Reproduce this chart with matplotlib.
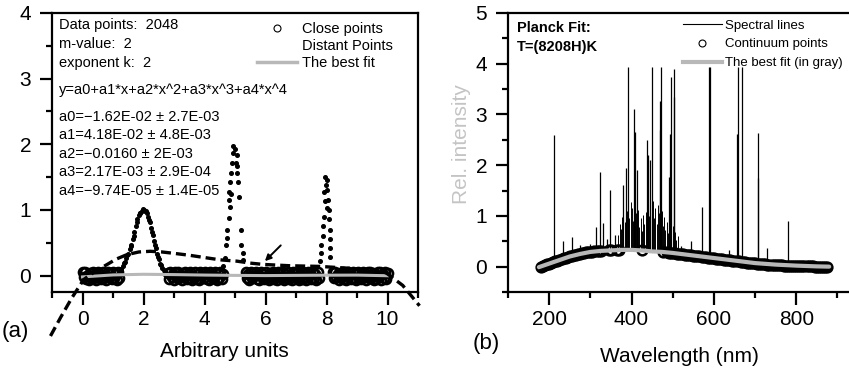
import numpy as np
import matplotlib
matplotlib.use("Agg")
import matplotlib.pyplot as plt
from matplotlib.lines import Line2D
from matplotlib.ticker import MultipleLocator

plt.rcParams["font.family"] = ["Liberation Sans", "DejaVu Sans"]

# ---- panel (a): data ----
# close points: four baseline stretches (evenly sampled), y values per stretch
seg_ranges = [(0.0, 1.2), (2.8, 4.6), (5.35, 7.75), (8.2, 10.0)]
seg1_y = [0.05, -0.02, 0.06, -0.05, 0.01, -0.06, 0.04, -0.03, 0.06, -0.04, 0.02, -0.06, 0.05, -0.01, 0.03, -0.05,
          0.06, -0.03, 0.00, -0.06, 0.05, -0.02, 0.04, -0.05, 0.06, -0.04, 0.02, -0.06, 0.05, -0.03]
seg2_y = [0.04, -0.05, 0.06, -0.02, 0.02, -0.06, 0.05, -0.03, 0.06, -0.04, 0.01, -0.06, 0.04, -0.02, 0.06, -0.05,
          0.03, -0.04, 0.05, -0.06, 0.00, -0.03, 0.06, -0.05, 0.02, -0.06, 0.05, -0.01, 0.04, -0.04,
          0.06, -0.05, 0.03, -0.06, 0.05, -0.02, 0.01, -0.04, 0.06, -0.06, 0.04, -0.03, 0.05, -0.05, 0.03]
seg3_y = [0.06, -0.03, 0.02, -0.06, 0.05, -0.04, 0.04, -0.01, 0.06, -0.05, 0.01, -0.06, 0.05, -0.02, 0.03, -0.05,
          0.06, -0.04, 0.00, -0.06, 0.04, -0.03, 0.06, -0.05, 0.02, -0.06, 0.05, -0.02, 0.04, -0.04,
          0.06, -0.06, 0.03, -0.03, 0.05, -0.05, 0.01, -0.06, 0.06, -0.02, 0.04, -0.04, 0.05, -0.06, 0.02,
          -0.05, 0.06, -0.03, 0.03, -0.06, 0.05, -0.01, 0.04, -0.05, 0.06, -0.04, 0.02, -0.06, 0.05, -0.03]
seg4_y = [0.05, -0.04, 0.06, -0.02, 0.03, -0.06, 0.04, -0.03, 0.06, -0.05, 0.01, -0.06, 0.05, -0.01, 0.04, -0.05,
          0.06, -0.03, 0.02, -0.06, 0.05, -0.04, 0.00, -0.05, 0.06, -0.02, 0.03, -0.06, 0.05, -0.04,
          0.06, -0.03, 0.04, -0.06, 0.02, -0.05, 0.05, -0.02, 0.06, -0.06, 0.03, -0.04, 0.05, -0.05, 0.04]

# distant points (the three peaks)
peak2_x = [1.20, 1.26, 1.32, 1.38, 1.44, 1.50, 1.55, 1.60, 1.65, 1.70, 1.75, 1.80, 1.85, 1.90, 1.95, 2.00, 2.05,
           2.10, 2.15, 2.20, 2.25, 2.30, 2.35, 2.40, 2.45, 2.50, 2.55, 2.60, 2.66, 2.72,
           1.23, 1.35, 1.47, 1.58, 1.68, 1.78, 1.88, 1.98, 2.08, 2.18, 2.28, 2.38, 2.48, 2.58, 2.69]
peak2_y = [0.06, 0.10, 0.15, 0.21, 0.27, 0.33, 0.40, 0.47, 0.56, 0.66, 0.76, 0.86, 0.92, 0.96, 0.99, 1.00, 0.98,
           0.95, 0.89, 0.82, 0.73, 0.62, 0.52, 0.42, 0.33, 0.25, 0.18, 0.12, 0.08, 0.05,
           0.09, 0.19, 0.31, 0.45, 0.61, 0.82, 0.95, 1.02, 0.98, 0.85, 0.66, 0.46, 0.28, 0.16, 0.06]
peak5_x = [4.95, 5.00, 4.92, 5.05, 4.89, 5.03, 5.08, 4.86, 5.05, 5.11, 4.84, 4.81, 4.86, 5.14, 4.81, 4.84, 4.80,
           4.75, 5.19, 4.73, 5.21, 4.71, 5.25, 4.66, 5.27, 4.62]
peak5_y = [1.98, 1.93, 1.86, 1.83, 1.71, 1.71, 1.67, 1.56, 1.56, 1.43, 1.43, 1.28, 1.25, 1.20, 1.15, 1.05, 0.87,
           0.70, 0.70, 0.57, 0.47, 0.47, 0.34, 0.27, 0.24, 0.14]
peak8_x = [7.94, 8.00, 7.97, 8.02, 7.91, 8.05, 7.94, 8.00, 8.08, 7.91, 8.07, 7.89, 8.10, 7.87, 8.13, 7.83, 8.13,
           8.10, 7.83, 7.78]
peak8_y = [1.50, 1.45, 1.38, 1.30, 1.28, 1.15, 1.13, 1.03, 1.00, 0.90, 0.86, 0.75, 0.70, 0.60, 0.55, 0.47, 0.42,
           0.29, 0.34, 0.22]

# dashed curve
dash_x = [-1.05, -0.72, -0.35, 0.04, 0.40, 0.81, 1.10, 1.46, 1.85, 2.22, 2.60, 2.98, 3.50, 4.07, 4.51, 5.06,
          5.50, 5.93, 6.80, 7.78, 8.80, 9.96, 10.50, 11.05]
dash_y = [-0.92, -0.64, -0.34, -0.06, 0.06, 0.17, 0.25, 0.32, 0.36, 0.37, 0.36, 0.34, 0.31, 0.27, 0.24, 0.22,
          0.19, 0.17, 0.15, 0.14, 0.11, 0.04, -0.15, -0.46]

# best fit (gray)
fit_a_x = [0, 1, 2, 3, 4, 5, 6, 7, 8, 9, 10]
fit_a_y = [-0.02, 0.01, 0.02, 0.015, 0.008, 0.003, 0.0, 0.003, 0.006, 0.007, -0.002]

info_lines = ["Data points:  2048", "m-value:  2", "exponent k:  2"]
eq_lines = ["y=a0+a1*x+a2*x^2+a3*x^3+a4*x^4",
            "a0=\u22121.62E-02 \u00b1 2.7E-03",
            "a1=4.18E-02 \u00b1 4.8E-03",
            "a2=\u22120.0160 \u00b1 2E-03",
            "a3=2.17E-03 \u00b1 2.9E-04",
            "a4=\u22129.74E-05 \u00b1 1.4E-05"]

# ---- panel (b): data ----
# continuum points: blue side 180-315 nm, a few isolated ones, red side 485-875 nm (5 nm grid)
cont_blue_wl = list(range(180, 320, 5))
cont_blue_y = [0.00, 0.015, 0.03, 0.045, 0.06, 0.075, 0.09, 0.105, 0.12, 0.135, 0.15, 0.165, 0.18, 0.19,
               0.20, 0.21, 0.22, 0.23, 0.24, 0.25, 0.26, 0.27, 0.28, 0.285, 0.29, 0.295, 0.30, 0.305]
cont_mid_wl = [320, 325, 345, 350, 365, 370, 425, 477]
cont_mid_y = [0.31, 0.31, 0.32, 0.32, 0.33, 0.33, 0.32, 0.29]
cont_red_wl = list(range(485, 880, 5))
cont_red_y = [0.280, 0.275, 0.270, 0.265, 0.260, 0.255, 0.250, 0.245, 0.240, 0.235,
              0.230, 0.225, 0.220, 0.215, 0.210, 0.205, 0.200, 0.195, 0.190, 0.185,
              0.180, 0.175, 0.170, 0.165, 0.160, 0.155, 0.150, 0.145, 0.140, 0.135,
              0.130, 0.125, 0.120, 0.115, 0.110, 0.105, 0.095, 0.090, 0.085, 0.080,
              0.075, 0.070, 0.066, 0.062, 0.058, 0.054, 0.050, 0.047, 0.044, 0.041,
              0.038, 0.035, 0.032, 0.030, 0.028, 0.026, 0.024, 0.022, 0.020, 0.018,
              0.016, 0.014, 0.012, 0.011, 0.010, 0.009, 0.008, 0.007, 0.006, 0.005,
              0.004, 0.003, 0.002, 0.001, 0.0, 0.0, 0.0, 0.0, 0.0]

fit_b_wl = [175, 200, 225, 250, 275, 300, 325, 350, 375, 400, 425, 450, 475, 500, 550, 600, 650, 700, 750, 800,
            850, 880]
fit_b_y = [-0.01, 0.06, 0.13, 0.20, 0.25, 0.29, 0.31, 0.32, 0.33, 0.33, 0.32, 0.30, 0.29, 0.27, 0.22, 0.17,
           0.12, 0.07, 0.04, 0.02, 0.005, 0.0]

line_wl = [210.5, 233, 255, 275, 300, 314, 324, 330, 340, 348, 360, 380, 387, 391, 405, 409, 414, 437, 441, 445,
           450, 468, 470, 472, 490, 494, 496, 503, 504, 520, 544, 571, 589, 591, 636, 656, 658, 669, 706, 708,
           729, 779]
line_top = [2.59, 0.50, 0.59, 0.43, 0.45, 0.79, 1.87, 0.86, 0.55, 1.51, 0.63, 1.61, 1.94, 3.93, 3.11, 2.65, 1.90,
            2.49, 2.20, 2.10, 3.93, 2.69, 3.27, 3.93, 1.77, 2.62, 3.73, 3.90, 3.34, 0.40, 0.50, 1.18, 3.93, 3.93,
            0.33, 2.62, 3.93, 3.93, 1.74, 2.64, 0.37, 0.89]

forest_wl = [368, 371, 374, 377, 380, 383, 386, 389, 392, 395, 398, 401, 404, 407, 410, 413, 416, 419, 422, 425,
             428, 431, 434, 437, 440, 443, 446, 449, 452, 455, 458, 461, 464, 467, 470, 473, 476, 479, 482, 485,
             488, 491, 494, 497, 500, 503, 506, 509, 512]
forest_top = [0.62, 0.85, 0.74, 0.98, 1.05, 0.88, 1.22, 1.10, 1.35, 0.95, 1.28, 1.15, 0.90, 1.32, 1.05, 0.82,
              1.12, 0.78, 0.95, 0.70, 1.02, 0.85, 1.08, 0.92, 1.25, 1.00, 1.18, 0.88, 1.30, 0.96, 1.15, 0.84,
              1.22, 1.05, 0.92, 1.10, 0.80, 0.98, 0.72, 0.88, 0.66, 0.84, 0.74, 0.62, 0.80, 0.58, 0.68, 0.52, 0.60]

GRAY = "#b8b8b8"

fig = plt.figure(figsize=(8.49, 3.71), dpi=100)
ax1 = fig.add_axes([52 / 849, 79 / 371, 366 / 849, 279 / 371])
ax2 = fig.add_axes([508 / 849, 79 / 371, 350 / 849, 279 / 371])

# ---- panel (a) ----
for (x0, x1), ys in zip(seg_ranges, [seg1_y, seg2_y, seg3_y, seg4_y]):
    xs = np.linspace(x0, x1, len(ys))
    ax1.plot(xs, ys, ls="none", marker="o", ms=6.5, mfc="none", mec="black", mew=1.9, zorder=2)

for px, py in [(peak2_x, peak2_y), (peak5_x, peak5_y), (peak8_x, peak8_y)]:
    ax1.plot(px, py, ls="none", marker="o", ms=2.6, color="black", zorder=2)

ax1.plot(fit_a_x, fit_a_y, color=GRAY, lw=2.2, zorder=3)
ax1.plot(dash_x, dash_y, color="black", lw=2.4, ls=(0, (3, 1.5)), clip_on=False, zorder=4)
ax1.annotate("", xy=(5.98, 0.22), xytext=(6.50, 0.46),
             arrowprops=dict(arrowstyle="-|>", color="black", lw=1.4, mutation_scale=9, shrinkA=0, shrinkB=0))

ax1.set_xlim(-1, 11)
ax1.set_ylim(-0.25, 4)
ax1.xaxis.set_major_locator(MultipleLocator(2))
ax1.xaxis.set_minor_locator(MultipleLocator(1))
ax1.yaxis.set_major_locator(MultipleLocator(1))
ax1.yaxis.set_minor_locator(MultipleLocator(0.5))
ax1.set_xlabel("Arbitrary units", fontsize=15)
ax1.xaxis.set_label_coords(0.47, -0.18)

for i, s in enumerate(info_lines):
    ax1.text(0.019, 0.957 - i * 0.068, s, transform=ax1.transAxes, fontsize=10.5, va="center")
for i, s in enumerate(eq_lines):
    yy = 0.724 if i == 0 else 0.627 - (i - 1) * 0.066
    ax1.text(0.019, yy, s, transform=ax1.transAxes, fontsize=10.5, va="center")

h_close = Line2D([], [], ls="none", marker="o", ms=5, mfc="none", mec="black", mew=0.8)
h_dist = Line2D([], [], ls="none", marker=".", ms=1, color="white")
h_fit = Line2D([], [], color=GRAY, lw=2.5)
ax1.legend([h_close, h_dist, h_fit], ["Close points", "Distant Points", "The best fit"],
           loc="upper left", bbox_to_anchor=(0.56, 0.968), frameon=False, fontsize=10.5,
           handlelength=2.75, handletextpad=0.35, labelspacing=0.22, borderpad=0, borderaxespad=0)

fig.text(2 / 849, 1 - 332 / 371, "(a)", fontsize=16, va="center", ha="left")

# ---- panel (b) ----
base_lines = np.interp(line_wl, fit_b_wl, fit_b_y)
base_forest = np.interp(forest_wl, fit_b_wl, fit_b_y)
ax2.vlines(forest_wl, base_forest, forest_top, color="black", lw=0.7, zorder=2)
ax2.vlines(line_wl, base_lines, line_top, color="black", lw=0.9, zorder=2)
ax2.plot(fit_b_wl, fit_b_y, color="black", lw=0.8, zorder=2)
for cw, cy in [(cont_blue_wl, cont_blue_y), (cont_mid_wl, cont_mid_y), (cont_red_wl, cont_red_y)]:
    ax2.plot(cw, cy, ls="none", marker="o", ms=7, mfc="none", mec="black", mew=1.8, zorder=3)
ax2.plot(fit_b_wl, fit_b_y, color=GRAY, lw=3, zorder=4, solid_capstyle="round")

ax2.set_xlim(100, 950)
ax2.set_ylim(-0.5, 5)
ax2.xaxis.set_major_locator(MultipleLocator(200))
ax2.xaxis.set_minor_locator(MultipleLocator(100))
ax2.yaxis.set_major_locator(MultipleLocator(1))
ax2.yaxis.set_minor_locator(MultipleLocator(0.5))
ax2.set_xlabel("Wavelength (nm)", fontsize=15)
ax2.xaxis.set_label_coords(0.491, -0.197)
ax2.set_ylabel("Rel. intensity", fontsize=15, color="#c4c4c4")
ax2.yaxis.set_label_coords(-0.105, 0.53)

ax2.text(0.026, 0.946, "Planck Fit:", transform=ax2.transAxes, fontsize=10.5, fontweight="bold", va="center")
ax2.text(0.026, 0.878, "T=(8208H)K", transform=ax2.transAxes, fontsize=10.5, fontweight="bold", va="center")

h_spec = Line2D([], [], color="black", lw=0.8)
h_cont = Line2D([], [], ls="none", marker="o", ms=5, mfc="none", mec="black", mew=0.8)
h_fitb = Line2D([], [], color=GRAY, lw=3)
ax2.legend([h_spec, h_cont, h_fitb], ["Spectral lines", "Continuum points", "The best fit (in gray)"],
           loc="upper left", bbox_to_anchor=(0.50, 0.977), frameon=False, fontsize=9.5,
           handlelength=2.95, handletextpad=0.2, labelspacing=0.5, borderpad=0, borderaxespad=0)

fig.text(473 / 849, 1 - 343 / 371, "(b)", fontsize=16, va="center", ha="left")

for ax in (ax1, ax2):
    for sp in ax.spines.values():
        sp.set_linewidth(1.6)
    ax.tick_params(which="major", direction="out", length=9, width=1.6, labelsize=15, pad=4)
    ax.tick_params(which="minor", direction="out", length=4.5, width=1.6)
    ax.tick_params(axis="y", which="major", pad=6)

fig.savefig("out.png", dpi=100)
